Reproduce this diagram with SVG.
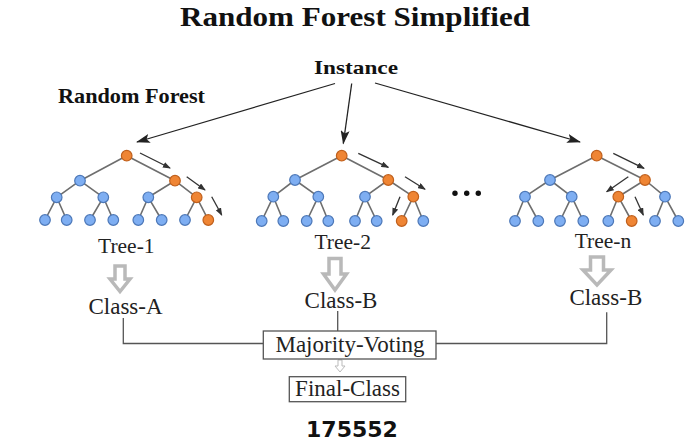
<svg xmlns="http://www.w3.org/2000/svg" width="689" height="443" viewBox="0 0 689 443">
<style>
.t{font-family:"Liberation Serif","Times New Roman",serif;fill:#222;text-anchor:middle}
.b{font-weight:bold;fill:#111}
.e{stroke:#6e6e6e;stroke-width:1.6;fill:none}
.bl{fill:#7eaef2;stroke:#4d78b8;stroke-width:1.2}
.or{fill:#ef8534;stroke:#c0601c;stroke-width:1.2}
.pa{stroke:#333;stroke-width:1.3;fill:none;marker-end:url(#ah)}
.ia{stroke:#222;stroke-width:1.3;fill:none;marker-end:url(#ah2)}
.blk{fill:#fff;stroke:#b9b9b9;stroke-width:3.5;stroke-linejoin:miter}
.cn{stroke:#555;stroke-width:1.3;fill:none}
.bx{fill:#fff;stroke:#555;stroke-width:1.3}
</style>
<defs>
<marker id="ah" markerWidth="8" markerHeight="6" refX="7" refY="3" orient="auto" markerUnits="userSpaceOnUse"><path d="M0,0 L8,3 L0,6 Z" fill="#333"/></marker>
<marker id="ah2" markerWidth="14" markerHeight="9" refX="13" refY="4.5" orient="auto" markerUnits="userSpaceOnUse"><path d="M0,0 L14,4.5 L0,9 L3,4.5 Z" fill="#222"/></marker>
</defs>
<rect width="689" height="443" fill="#fff"/>
<g id="title"><text class="t b" x="355" y="26" font-size="27" textLength="350" lengthAdjust="spacingAndGlyphs">Random Forest Simplified</text></g>
<g id="forest-label"><text class="t b" x="131.5" y="103" font-size="21" textLength="147" lengthAdjust="spacingAndGlyphs">Random Forest</text></g>
<g id="instance"><text class="t b" x="356" y="73.5" font-size="19" textLength="84" lengthAdjust="spacingAndGlyphs">Instance</text></g>
<g id="connectors">
<line class="ia" x1="335" y1="83.5" x2="137" y2="142"/>
<line class="ia" x1="351.7" y1="83.5" x2="343.3" y2="143.5"/>
<line class="ia" x1="375" y1="83" x2="580" y2="142"/>
<polyline class="cn" points="123.3,318 123.3,343.5 263.3,343.5"/>
<polyline class="cn" points="436,343.5 606.7,343.5 606.7,312.3"/>
<line class="cn" x1="337.7" y1="311" x2="337.7" y2="331"/>
<path class="blk" d="M115,266 L125,266 L125,279 L130,279 L120,291.5 L110,279 L115,279 Z"/>
<path class="blk" d="M329,258.5 L341,258.5 L341,274 L346.5,274 L335,290 L323.5,274 L329,274 Z"/>
<path class="blk" d="M590.5,257 L603.5,257 L603.5,270 L611,270 L597,285 L583,270 L590.5,270 Z"/>
<path d="M338,360 L342,360 L342,366 L345,366 L340,372 L335,366 L338,366 Z" fill="#fff" stroke="#bbb" stroke-width="1"/>
</g>
<g id="tree-1">
<g class="e">
<path d="M126.7,155.7 L80,180.7 M126.7,155.7 L175,180.7 M80,180.7 L56.7,197.3 M80,180.7 L103.3,197.3 M175,180.7 L148.3,197.3 M175,180.7 L196.7,197.3 M56.7,197.3 L45,220 M56.7,197.3 L66.7,220 M103.3,197.3 L90,220 M103.3,197.3 L113.3,220 M148.3,197.3 L138.3,220 M148.3,197.3 L161.7,220 M196.7,197.3 L185,220 M196.7,197.3 L208.3,220"/>
</g>
<circle class="or" cx="126.7" cy="155.7" r="5.3"/>
<circle class="bl" cx="80" cy="180.7" r="5.3"/><circle class="or" cx="175" cy="180.7" r="5.3"/>
<circle class="bl" cx="56.7" cy="197.3" r="5.3"/><circle class="bl" cx="103.3" cy="197.3" r="5.3"/><circle class="bl" cx="148.3" cy="197.3" r="5.3"/><circle class="or" cx="196.7" cy="197.3" r="5.3"/>
<circle class="bl" cx="45" cy="220" r="5.3"/><circle class="bl" cx="66.7" cy="220" r="5.3"/><circle class="bl" cx="90" cy="220" r="5.3"/><circle class="bl" cx="113.3" cy="220" r="5.3"/><circle class="bl" cx="138.3" cy="220" r="5.3"/><circle class="bl" cx="161.7" cy="220" r="5.3"/><circle class="bl" cx="185" cy="220" r="5.3"/><circle class="or" cx="208.3" cy="220" r="5.3"/>
<line class="pa" x1="140" y1="153" x2="170" y2="168"/>
<line class="pa" x1="186.7" y1="176.7" x2="205" y2="190"/>
<line class="pa" x1="211.7" y1="196.7" x2="221.7" y2="215"/>
<text class="t" x="126.3" y="253.3" font-size="21.5">Tree-1</text>
<text class="t" x="125.5" y="314.3" font-size="23">Class-A</text>
</g>
<g id="tree-2">
<g class="e">
<path d="M341.7,155.7 L295,180 M341.7,155.7 L388.3,180 M295,180 L273.3,196.7 M295,180 L318.3,196.7 M388.3,180 L365,196.7 M388.3,180 L413.3,196.7 M273.3,196.7 L261.7,221 M273.3,196.7 L283.3,221 M318.3,196.7 L306.7,221 M318.3,196.7 L328.3,221 M365,196.7 L355,221 M365,196.7 L376.7,221 M413.3,196.7 L401.7,221 M413.3,196.7 L423.3,221"/>
</g>
<circle class="or" cx="341.7" cy="155.7" r="5.3"/>
<circle class="bl" cx="295" cy="180" r="5.3"/><circle class="or" cx="388.3" cy="180" r="5.3"/>
<circle class="bl" cx="273.3" cy="196.7" r="5.3"/><circle class="bl" cx="318.3" cy="196.7" r="5.3"/><circle class="bl" cx="365" cy="196.7" r="5.3"/><circle class="or" cx="413.3" cy="196.7" r="5.3"/>
<circle class="bl" cx="261.7" cy="221" r="5.3"/><circle class="bl" cx="283.3" cy="221" r="5.3"/><circle class="bl" cx="306.7" cy="221" r="5.3"/><circle class="bl" cx="328.3" cy="221" r="5.3"/><circle class="bl" cx="355" cy="221" r="5.3"/><circle class="bl" cx="376.7" cy="221" r="5.3"/><circle class="or" cx="401.7" cy="221" r="5.3"/><circle class="bl" cx="423.3" cy="221" r="5.3"/>
<line class="pa" x1="358.3" y1="153.3" x2="388.3" y2="167.3"/>
<line class="pa" x1="405" y1="176.7" x2="425" y2="189.3"/>
<line class="pa" x1="400" y1="196.7" x2="392.7" y2="215"/>
<text class="t" x="342.7" y="249" font-size="21.5">Tree-2</text>
<text class="t" x="341" y="308.3" font-size="23">Class-B</text>
</g>
<g id="ellipsis">
<circle cx="455" cy="193.3" r="2.7" fill="#111"/><circle cx="466.7" cy="193.3" r="2.7" fill="#111"/><circle cx="478.3" cy="193.3" r="2.7" fill="#111"/>
</g>
<g id="tree-n">
<g class="e">
<path d="M596.7,155.7 L550,180 M596.7,155.7 L645,180 M550,180 L525,196.7 M550,180 L571.7,196.7 M645,180 L618.3,196.7 M645,180 L665,196.7 M525,196.7 L515,221 M525,196.7 L538.3,221 M571.7,196.7 L560,221 M571.7,196.7 L583.3,221 M618.3,196.7 L608.3,221 M618.3,196.7 L631.7,221 M665,196.7 L655,221 M665,196.7 L678.3,221"/>
</g>
<circle class="or" cx="596.7" cy="155.7" r="5.3"/>
<circle class="bl" cx="550" cy="180" r="5.3"/><circle class="or" cx="645" cy="180" r="5.3"/>
<circle class="bl" cx="525" cy="196.7" r="5.3"/><circle class="bl" cx="571.7" cy="196.7" r="5.3"/><circle class="or" cx="618.3" cy="196.7" r="5.3"/><circle class="bl" cx="665" cy="196.7" r="5.3"/>
<circle class="bl" cx="515" cy="221" r="5.3"/><circle class="bl" cx="538.3" cy="221" r="5.3"/><circle class="bl" cx="560" cy="221" r="5.3"/><circle class="bl" cx="583.3" cy="221" r="5.3"/><circle class="bl" cx="608.3" cy="221" r="5.3"/><circle class="or" cx="631.7" cy="221" r="5.3"/><circle class="bl" cx="655" cy="221" r="5.3"/><circle class="bl" cx="678.3" cy="221" r="5.3"/>
<line class="pa" x1="613.3" y1="153.3" x2="644" y2="168.3"/>
<line class="pa" x1="628.3" y1="176.7" x2="606.7" y2="191.7"/>
<line class="pa" x1="635" y1="196.7" x2="643.3" y2="215"/>
<text class="t" x="603" y="248.3" font-size="21.5">Tree-n</text>
<text class="t" x="605.8" y="305" font-size="23">Class-B</text>
</g>
<g id="majority-voting">
<rect class="bx" x="263.3" y="331" width="172.7" height="28"/>
<text class="t" x="350" y="352" font-size="23">Majority-Voting</text>
</g>
<g id="final-class">
<rect class="bx" x="289.3" y="376.7" width="116.4" height="25"/>
<text class="t" x="347.5" y="395.5" font-size="23">Final-Class</text>
</g>
<g id="caption"><text x="352" y="437" font-family="DejaVu Sans,sans-serif" font-weight="bold" font-size="22" text-anchor="middle" fill="#111">175552</text></g>
</svg>
